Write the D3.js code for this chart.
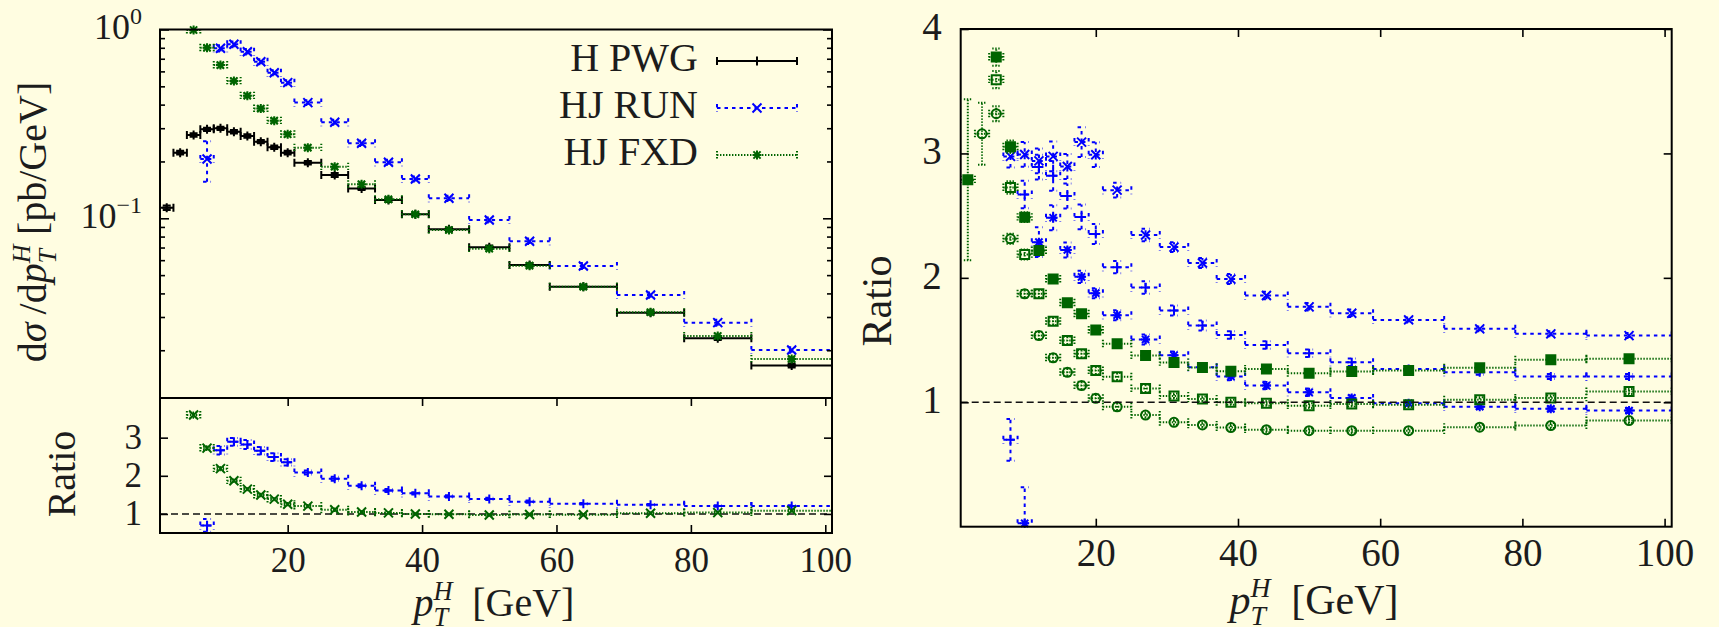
<!DOCTYPE html>
<html>
<head>
<meta charset="utf-8">
<script src="https://cdn.jsdelivr.net/npm/d3@7"></script>
<style>
  body { margin: 0; background: #fffde1; }
  svg { display: block; }
  text { font-family: "Liberation Serif", "Times New Roman", serif; fill: #1c1c1c; }
</style>
</head>
<body>
<svg id="chart" width="1719" height="627"></svg>
<script>
// pT bins [GeV]
const binLo  = [1, 3, 5, 7, 9, 11, 13, 15, 17, 19, 21, 25, 29, 33, 37, 41, 47, 53, 59, 69, 79, 89];
const binHi  = [3, 5, 7, 9, 11, 13, 15, 17, 19, 21, 25, 29, 33, 37, 41, 47, 53, 59, 69, 79, 89, 101];
const binMid = [2, 4, 6, 8, 10, 12, 14, 16, 18, 20, 23, 27, 31, 35, 39, 44, 50, 56, 64, 74, 84, 95];

// dsigma/dpT [pb/GeV]
const pwg    = [0.1138, 0.2226, 0.276, 0.296, 0.2995, 0.2875, 0.273, 0.2546, 0.2377, 0.2226, 0.197, 0.1696, 0.144, 0.125, 0.105, 0.0874, 0.0702, 0.0566, 0.0434, 0.0316, 0.02314, 0.0166];
const pwgErr = [0.003, 0.005, 0.006, 0.006, 0.006, 0.006, 0.006, 0.005, 0.005, 0.005, 0.004, 0.004, 0.003, 0.003, 0.002, 0.002, 0.0015, 0.0012, 0.001, 0.0007, 0.0005, 0.0004];
const run    = [null, null, null, 0.206, 0.795, 0.835, 0.763, 0.675, 0.590, 0.523, 0.410, 0.3225, 0.2495, 0.198, 0.1615, 0.1276, 0.098, 0.0756, 0.0559, 0.0392, 0.028, 0.02007];
const runErr = [0, 0, 0, 0.05, 0.03, 0.03, 0.025, 0.02, 0.018, 0.016, 0.012, 0.01, 0.008, 0.006, 0.005, 0.004, 0.003, 0.0025, 0.002, 0.0013, 0.001, 0.0007];
const fxd    = [null, null, 0.994, 0.80, 0.648, 0.534, 0.446, 0.381, 0.329, 0.2786, 0.2366, 0.1876, 0.1514, 0.126, 0.105, 0.0867, 0.069, 0.0561, 0.0434, 0.0318, 0.0238, 0.018];
const fxdErr = [0, 0, 0.03, 0.025, 0.02, 0.016, 0.013, 0.011, 0.01, 0.008, 0.007, 0.006, 0.005, 0.004, 0.003, 0.0026, 0.002, 0.0017, 0.0013, 0.001, 0.0007, 0.0005];

// ratios (right panel, and the two used in the lower left panel)
const ratioRun     = [null, null, null, 0.698, 2.670, 2.89, 2.82, 2.658, 2.49, 2.352, 2.086, 1.922, 1.737, 1.617, 1.54, 1.46, 1.394, 1.322, 1.268, 1.241, 1.207, 1.207];
const ratioRunErr  = [0, 0, 0, 0.168, 0.11, 0.1, 0.12, 0.1, 0.1, 0.08, 0.05, 0.05, 0.04, 0.04, 0.03, 0.03, 0.03, 0.03, 0.02, 0.02, 0.02, 0.02];
const ratioRunB    = [null, null, null, 2.976, 2.992, 2.94, 2.976, 2.895, 3.091, 2.99, 2.705, 2.345, 2.247, 2.12, 1.99, 1.858, 1.767, 1.716, 1.662, 1.59, 1.55, 1.536];
const ratioRunBErr = [0, 0, 0, 0.09, 0.1, 0.1, 0.12, 0.1, 0.12, 0.1, 0.06, 0.05, 0.04, 0.04, 0.04, 0.03, 0.03, 0.03, 0.02, 0.02, 0.02, 0.02];
const ratioRunC    = [null, null, null, null, 0.027, 2.287, 2.483, 2.224, 2.008, 1.877, 1.70, 1.505, 1.378, 1.281, 1.208, 1.134, 1.08, 1.035, 0.992, 0.965, 0.947, 0.933];
const ratioRunCErr = [0, 0, 0, 0, 0.29, 0.12, 0.1, 0.06, 0.05, 0.04, 0.04, 0.04, 0.03, 0.03, 0.03, 0.03, 0.03, 0.02, 0.02, 0.02, 0.02, 0.02];
const ratioFxdA    = [2.789, null, 3.774, 3.053, 2.488, 2.22, 1.99, 1.799, 1.711, 1.58, 1.47, 1.376, 1.32, 1.279, 1.249, 1.268, 1.233, 1.247, 1.255, 1.277, 1.341, 1.349];
const ratioFxdAErr = [0.647, 0, 0.07, 0.05, 0.04, 0.03, 0.03, 0.03, 0.03, 0.03, 0.03, 0.03, 0.02, 0.02, 0.02, 0.02, 0.02, 0.02, 0.02, 0.02, 0.02, 0.02];
const ratioFxd     = [null, null, 3.593, 2.726, 2.188, 1.872, 1.651, 1.496, 1.389, 1.255, 1.205, 1.11, 1.051, 1.027, 1.0, 0.992, 0.973, 0.987, 0.98, 1.02, 1.035, 1.086];
const ratioFxdErr  = [0, 0, 0.07, 0.05, 0.04, 0.03, 0.03, 0.03, 0.03, 0.03, 0.03, 0.03, 0.02, 0.02, 0.02, 0.02, 0.02, 0.02, 0.02, 0.02, 0.02, 0.02];
const ratioFxdC    = [null, 3.158, 3.319, 2.314, 1.872, 1.536, 1.357, 1.241, 1.134, 1.032, 0.964, 0.897, 0.839, 0.818, 0.797, 0.78, 0.772, 0.772, 0.772, 0.80, 0.813, 0.853];
const ratioFxdCErr = [0, 0.25, 0.06, 0.04, 0.03, 0.03, 0.03, 0.03, 0.03, 0.03, 0.03, 0.02, 0.02, 0.02, 0.02, 0.02, 0.02, 0.02, 0.02, 0.02, 0.02, 0.02];

// ticks and labels
const xTickValues = [20, 40, 60, 80, 100];
const logMajor = [1, 0.1];
const logLabels = [["10", "0"], ["10", "\u22121"]];
const ratioTicksLeft = [1, 2, 3];
const ratioTicksRight = [1, 2, 3, 4];
const legendLabels = ["H PWG", "HJ RUN", "HJ FXD"];

const width = 1719, height = 627;
const BLUE = "#0000ff", GREEN = "#006400", BLACK = "#000000";
const lineBlack = { color: BLACK, dash: null };
const lineBlue = { color: BLUE, dash: "3.5,4" };
const lineGreen = { color: GREEN, dash: "1.4,1.6" };

const svg = d3.select("#chart");
svg.append("rect").attr("width", width).attr("height", height).attr("fill", "#fffde1");
const defs = svg.append("defs");

// panel frames
const PL = { x0: 160, x1: 832, top: 29.5, mid: 398, bot: 533 };
const PR = { x0: 960.7, x1: 1671.7, top: 29, bot: 526.7 };

const xL = d3.scaleLinear([1, 101], [PL.x0, PL.x1]);
const yTop = d3.scaleLog([0.01117, 1], [PL.mid, PL.top]);
const yLow = d3.scaleLinear([0.5, 4.04], [PL.bot, PL.mid]);
const xR = d3.scaleLinear([1, 101], [PR.x0, PR.x1]);
const yR = d3.scaleLinear([0, 4], [PR.bot, PR.top]);

function addClip(id, x0, y0, x1, y1) {
    defs.append("clipPath").attr("id", id)
        .append("rect").attr("x", x0).attr("y", y0).attr("width", x1 - x0).attr("height", y1 - y0);
}
addClip("clipTop", PL.x0, PL.top, PL.x1, PL.mid);
addClip("clipLow", PL.x0, PL.mid, PL.x1, PL.bot);
addClip("clipRight", PR.x0, PR.top, PR.x1, PR.bot);

function markerPath(type) {
    const s = 4.5;
    if (type === "plus") return `M${-s},0H${s}M0,${-s}V${s}`;
    if (type === "cross") return `M${-s},${-s}L${s},${s}M${-s},${s}L${s},${-s}`;
    if (type === "star") return markerPath("plus") + "M-3.6,-3.6L3.6,3.6M-3.6,3.6L3.6,-3.6";
    if (type === "circle") return "M4.5,0A4.5,4.5 0 1,1 -4.5,0A4.5,4.5 0 1,1 4.5,0Z";
    return "M-4.5,-4.5H4.5V4.5H-4.5Z"; // box / filledbox
}

function drawMarker(g, type, color, cx, cy) {
    g.append("path")
        .attr("transform", `translate(${cx},${cy})`)
        .attr("d", markerPath(type))
        .attr("fill", type === "filledbox" ? color : "none")
        .attr("stroke", color)
        .attr("stroke-width", 2);
}

// xyerrorbars: bin-width bar with end caps, vertical error with caps, point at bin centre
function drawSeries(g, x, y, clipId, vals, errs, line, type) {
    const pts = binMid.map((m, i) => ({ lo: binLo[i], hi: binHi[i], mid: m, v: vals[i], e: errs[i] || 0 }))
        .filter(d => d.v !== null);
    const [dMin, dMax] = y.domain();
    const low = v => (y.base ? Math.max(v, dMin * 0.5) : v);

    g.append("g")
        .attr("clip-path", `url(#${clipId})`)
        .attr("fill", "none")
        .attr("stroke", line.color)
        .attr("stroke-width", 2)
        .attr("stroke-dasharray", line.dash)
        .selectAll("path")
        .data(pts)
        .join("path")
        .attr("d", d => {
            const yc = y(d.v), ya = y(low(d.v - d.e)), yb = y(d.v + d.e);
            const x0 = x(d.lo), x1 = x(d.hi), xm = x(d.mid);
            return `M${x0},${yc}H${x1}M${x0},${yc - 4}V${yc + 4}M${x1},${yc - 4}V${yc + 4}` +
                `M${xm},${ya}V${yb}M${xm - 4},${ya}H${xm + 4}M${xm - 4},${yb}H${xm + 4}`;
        });

    const mg = g.append("g");
    pts.filter(d => d.v >= dMin && d.v <= dMax * 1.001)
        .forEach(d => drawMarker(mg, type, line.color, x(d.mid), y(d.v)));
}

function styleAxis(g) {
    g.select(".domain").remove();
    g.selectAll(".tick line").attr("stroke", BLACK).attr("stroke-width", 1.6);
    g.selectAll(".tick text").attr("fill", "#1c1c1c").attr("font-family", "Liberation Serif, serif");
}

function dashedOne(x, y) {
    svg.append("line")
        .attr("x1", x.range()[0]).attr("x2", x.range()[1])
        .attr("y1", y(1)).attr("y2", y(1))
        .attr("stroke", "#111").attr("stroke-width", 1.4).attr("stroke-dasharray", "7,4");
}

// p_T^H [GeV] with stacked sub/superscript
function ptTitle(g, size) {
    const small = size * 0.66;
    g.append("tspan").attr("font-style", "italic").text("p");
    g.append("tspan").attr("font-style", "italic").attr("font-size", small).attr("dy", -size * 0.4).text("H");
    g.append("tspan").attr("font-style", "italic").attr("font-size", small).attr("dx", -small * 0.72).attr("dy", size * 0.65).text("T");
    g.append("tspan").attr("dx", small * 0.15).attr("dy", -size * 0.25).html("&#160;&#160;[GeV]");
}

// ---------- left panel, upper part (log scale) ----------
const gTop = svg.append("g");
dashedOne(xL, yLow);

svg.append("g").attr("transform", `translate(${PL.x0},0)`)
    .call(d3.axisLeft(yTop).tickValues(yTop.ticks().filter(t => !logMajor.includes(t))).tickSizeInner(-5).tickFormat(""))
    .call(styleAxis);
svg.append("g").attr("transform", `translate(${PL.x1},0)`)
    .call(d3.axisRight(yTop).tickValues(yTop.ticks().filter(t => !logMajor.includes(t))).tickSizeInner(-5).tickFormat(""))
    .call(styleAxis);
svg.append("g").attr("transform", `translate(${PL.x1},0)`)
    .call(d3.axisRight(yTop).tickValues(logMajor).tickSizeInner(-9).tickFormat(""))
    .call(styleAxis);
svg.append("g").attr("transform", `translate(${PL.x0},0)`)
    .call(d3.axisLeft(yTop).tickValues(logMajor).tickSizeInner(-9).tickPadding(18).tickFormat(""))
    .call(styleAxis)
    .call(g => g.selectAll(".tick text")
        .attr("font-size", 36).attr("dy", null).attr("y", 9)
        .each(function (d, i) {
            const t = d3.select(this);
            t.append("tspan").text(logLabels[i][0]);
            t.append("tspan").attr("font-size", 24).attr("dy", -15).text(logLabels[i][1]);
        }));

drawSeries(gTop, xL, yTop, "clipTop", pwg, pwgErr, lineBlack, "plus");
drawSeries(gTop, xL, yTop, "clipTop", run, runErr, lineBlue, "cross");
drawSeries(gTop, xL, yTop, "clipTop", fxd, fxdErr, lineGreen, "star");

// ---------- left panel, ratio part ----------
const gLow = svg.append("g");
svg.append("g").attr("transform", `translate(0,${PL.bot})`)
    .call(d3.axisBottom(xL).tickValues(xTickValues).tickSizeInner(-8).tickPadding(14).tickFormat(d3.format("d")))
    .call(styleAxis)
    .call(g => g.selectAll(".tick text").attr("font-size", 35));
svg.append("g").attr("transform", `translate(0,${PL.mid})`)
    .call(d3.axisTop(xL).tickValues(xTickValues).tickSizeInner(-8).tickFormat(""))
    .call(styleAxis);
svg.append("g").attr("transform", `translate(${PL.x0},0)`)
    .call(d3.axisLeft(yLow).tickValues(ratioTicksLeft).tickSizeInner(-8).tickPadding(18).tickFormat(d3.format("d")))
    .call(styleAxis)
    .call(g => g.selectAll(".tick text").attr("font-size", 35).attr("dy", "0.3em"));
svg.append("g").attr("transform", `translate(${PL.x1},0)`)
    .call(d3.axisRight(yLow).tickValues(ratioTicksLeft).tickSizeInner(-8).tickFormat(""))
    .call(styleAxis);

drawSeries(gLow, xL, yLow, "clipLow", ratioRun, ratioRunErr, lineBlue, "plus");
drawSeries(gLow, xL, yLow, "clipLow", ratioFxd, ratioFxdErr, lineGreen, "cross");

// frame
svg.append("rect").attr("x", PL.x0).attr("y", PL.top).attr("width", PL.x1 - PL.x0).attr("height", PL.bot - PL.top)
    .attr("fill", "none").attr("stroke", BLACK).attr("stroke-width", 2);
svg.append("line").attr("x1", PL.x0).attr("x2", PL.x1).attr("y1", PL.mid).attr("y2", PL.mid)
    .attr("stroke", BLACK).attr("stroke-width", 2);

// legend
const legendLines = [lineBlack, lineBlue, lineGreen];
const legendMarks = ["plus", "cross", "star"];
const gLeg = svg.append("g");
legendLabels.forEach((label, i) => {
    const ly = 61 + i * 47;
    gLeg.append("text").attr("x", 698).attr("y", ly + 9.5).attr("text-anchor", "end")
        .attr("font-size", 40).text(label);
    gLeg.append("path")
        .attr("d", `M717,${ly}H797M717,${ly - 4}V${ly + 4}M797,${ly - 4}V${ly + 4}`)
        .attr("fill", "none").attr("stroke", legendLines[i].color).attr("stroke-width", 2)
        .attr("stroke-dasharray", legendLines[i].dash);
    drawMarker(gLeg, legendMarks[i], legendLines[i].color, 757, ly);
});

// axis titles, left
svg.append("text").attr("transform", "translate(46,222) rotate(-90)").attr("text-anchor", "middle")
    .attr("font-size", 40)
    .call(t => {
        t.append("tspan").text("d");
        t.append("tspan").attr("font-style", "italic").text("\u03c3");
        t.append("tspan").text("\u2009/d");
        t.append("tspan").attr("font-style", "italic").text("p");
        t.append("tspan").attr("font-style", "italic").attr("font-size", 26).attr("dy", -16).text("H");
        t.append("tspan").attr("font-style", "italic").attr("font-size", 26).attr("dx", -19).attr("dy", 26).text("T");
        t.append("tspan").attr("dx", 4).attr("dy", -10).html("&#160;[pb/GeV]");
    });
svg.append("text").attr("transform", "translate(75,474) rotate(-90)").attr("text-anchor", "middle")
    .attr("font-size", 40).text("Ratio");
svg.append("text").attr("x", 494).attr("y", 616).attr("text-anchor", "middle").attr("font-size", 40)
    .call(t => ptTitle(t, 40));

// ---------- right panel ----------
const gR = svg.append("g");
dashedOne(xR, yR);

svg.append("g").attr("transform", `translate(0,${PR.bot})`)
    .call(d3.axisBottom(xR).tickValues(xTickValues).tickSizeInner(-8).tickPadding(12).tickFormat(d3.format("d")))
    .call(styleAxis)
    .call(g => g.selectAll(".tick text").attr("font-size", 39));
svg.append("g").attr("transform", `translate(0,${PR.top})`)
    .call(d3.axisTop(xR).tickValues(xTickValues).tickSizeInner(-8).tickFormat(""))
    .call(styleAxis);
svg.append("g").attr("transform", `translate(${PR.x0},0)`)
    .call(d3.axisLeft(yR).tickValues(ratioTicksRight).tickSizeInner(-8).tickPadding(19).tickFormat(d3.format("d")))
    .call(styleAxis)
    .call(g => g.selectAll(".tick text").attr("font-size", 39).attr("dy", "0.27em"));
svg.append("g").attr("transform", `translate(${PR.x1},0)`)
    .call(d3.axisRight(yR).tickValues(ratioTicksRight).tickSizeInner(-8).tickFormat(""))
    .call(styleAxis);

drawSeries(gR, xR, yR, "clipRight", ratioRunB, ratioRunBErr, lineBlue, "cross");
drawSeries(gR, xR, yR, "clipRight", ratioRun, ratioRunErr, lineBlue, "plus");
drawSeries(gR, xR, yR, "clipRight", ratioRunC, ratioRunCErr, lineBlue, "star");
drawSeries(gR, xR, yR, "clipRight", ratioFxdA, ratioFxdAErr, lineGreen, "filledbox");
drawSeries(gR, xR, yR, "clipRight", ratioFxd, ratioFxdErr, lineGreen, "box");
drawSeries(gR, xR, yR, "clipRight", ratioFxdC, ratioFxdCErr, lineGreen, "circle");

svg.append("rect").attr("x", PR.x0).attr("y", PR.top).attr("width", PR.x1 - PR.x0).attr("height", PR.bot - PR.top)
    .attr("fill", "none").attr("stroke", BLACK).attr("stroke-width", 2);

svg.append("text").attr("transform", "translate(891,301) rotate(-90)").attr("text-anchor", "middle")
    .attr("font-size", 42).text("Ratio");
svg.append("text").attr("x", 1314).attr("y", 614).attr("text-anchor", "middle").attr("font-size", 42)
    .call(t => ptTitle(t, 42));
</script>
</body>
</html>
